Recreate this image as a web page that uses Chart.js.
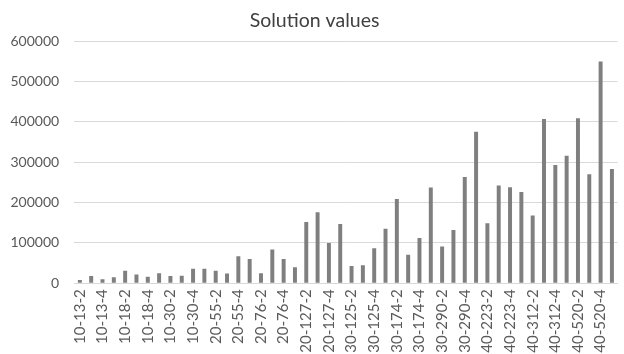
<!DOCTYPE html>
<html>
<head>
<meta charset="utf-8">
<script src="https://cdn.jsdelivr.net/npm/chart.js@4"></script>
<style>
  html, body { margin: 0; padding: 0; background: #ffffff; overflow: hidden; }
  #wrap { width: 636px; height: 354px; }
</style>
</head>
<body>
<div id="wrap"><canvas id="c" width="636" height="354"></canvas></div>
<script>
// Instance groups (size-capacity), each run with four settings
const groups = ["10-13", "10-18", "10-30", "20-55", "20-76", "20-127",
                "30-125", "30-174", "30-290", "40-223", "40-312", "40-520"];
const settings = ["2", "3", "4", "5"];
const categories = [];
groups.forEach(g => settings.forEach(s => categories.push(g + "-" + s)));

// Solution value for each instance, in category order
const solutionValues = [
  8000, 18000, 10000, 15000,
  31000, 22000, 16000, 25000,
  18000, 19000, 36000, 36000,
  31000, 24000, 67000, 60000,
  25000, 84000, 60000, 40000,
  152000, 176000, 100000, 147000,
  43000, 45000, 87000, 135000,
  209000, 71000, 112000, 237000,
  91000, 132000, 263000, 375000,
  149000, 242000, 238000, 226000,
  168000, 407000, 293000, 316000,
  409000, 270000, 549000, 283000
];

const yTicks = [0, 100000, 200000, 300000, 400000, 500000, 600000];

const FONT = "Lato, 'Open Sans', sans-serif";

new Chart(document.getElementById("c"), {
  type: "bar",
  data: {
    labels: categories,
    datasets: [{
      label: "Solution values",
      data: solutionValues,
      backgroundColor: "#7f7f7f",
      borderWidth: 0,
      barPercentage: 0.7,
      categoryPercentage: 0.5
    }]
  },
  options: {
    responsive: false,
    animation: false,
    devicePixelRatio: 1,
    layout: { padding: { left: 0, right: 7, top: 0, bottom: 0 } },
    plugins: {
      legend: { display: false },
      tooltip: { enabled: false },
      title: {
        display: true,
        text: "Solution values",
        color: "#404040",
        font: { family: FONT, size: 19.5, weight: "normal" },
        padding: { top: 9, bottom: 8.6 }
      }
    },
    scales: {
      x: {
        grid: { display: false, drawTicks: false },
        border: { display: true, color: "#d9d9d9", width: 1 },
        ticks: {
          autoSkip: false,
          maxRotation: 90,
          minRotation: 90,
          padding: 6,
          color: "#595959",
          font: { family: FONT, size: 15 },
          callback: function (value, index) {
            return index % 2 === 0 ? this.getLabelForValue(value) : "";
          }
        },
        afterFit: function (scale) { scale.height = 70.7; }
      },
      y: {
        min: 0,
        max: 600000,
        afterBuildTicks: function (scale) {
          scale.ticks = yTicks.map(v => ({ value: v }));
        },
        grid: { color: "#d9d9d9", lineWidth: 1, drawTicks: false },
        border: { display: false },
        ticks: {
          padding: 15,
          color: "#595959",
          font: { family: FONT, size: 14 },
          callback: function (value) { return String(value); }
        },
        afterFit: function (scale) { scale.width = 74.2; }
      }
    }
  }
});
</script>
</body>
</html>
